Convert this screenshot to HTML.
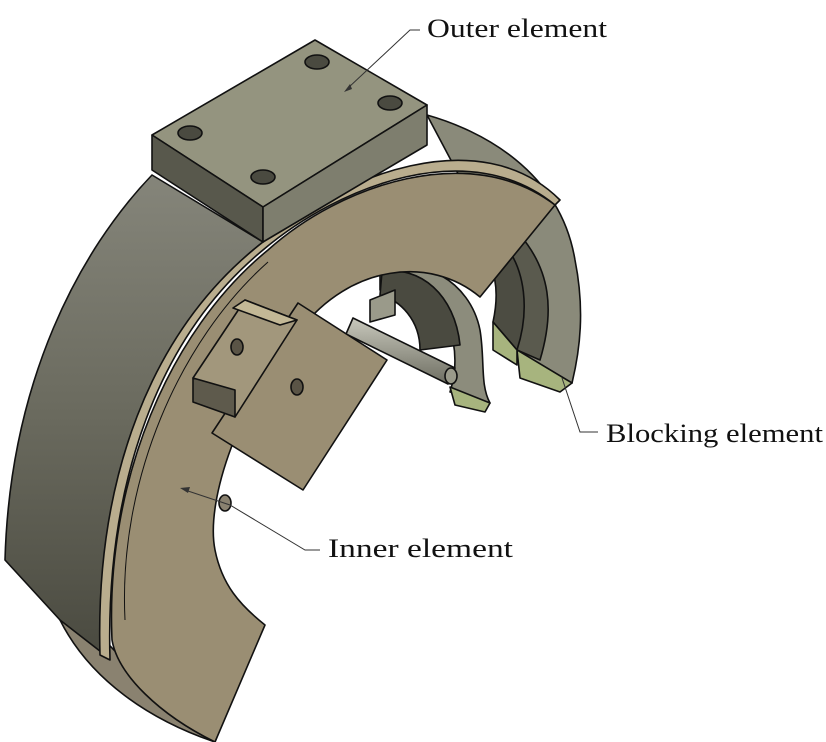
<!DOCTYPE html>
<html><head><meta charset="utf-8"><style>
html,body{margin:0;padding:0;background:#fff}
svg{display:block}
text{font-family:"Liberation Serif",serif;font-size:26px;fill:#111}
</style></head><body>
<svg width="826" height="742" viewBox="0 0 826 742" xmlns="http://www.w3.org/2000/svg">
<defs>
<linearGradient id="band" x1="0" y1="0" x2="0" y2="1">
<stop offset="0" stop-color="#85857a"/><stop offset="0.5" stop-color="#6a6a5e"/><stop offset="1" stop-color="#4a4a40"/></linearGradient>
<linearGradient id="pin" x1="0" y1="0" x2="0" y2="1">
<stop offset="0" stop-color="#c8c8bc"/><stop offset="1" stop-color="#6e6e62"/></linearGradient>
</defs>
<g stroke="#111" stroke-width="1.6" stroke-linejoin="round">
<path d="M427,115 C480,130 560,170 575,260 C585,310 580,350 572,383 L517,350 C525,300 520,250 480,215 Z" fill="#8a8a7a"/>
<path d="M500,240 C530,270 535,310 517,350 L493,322 C500,290 495,265 480,250 Z" fill="#4c4c42"/>
<path d="M520,235 C550,270 555,310 540,360 L517,350 C530,310 525,270 505,245Z" fill="#5a5a4e"/>
<path d="M517,350 L572,383 L560,392 L520,378 Z" fill="#a7b47e"/>
<path d="M493,322 L517,350 L517,365 L493,350 Z" fill="#a7b47e"/>
<path d="M380,270 C420,255 470,280 480,330 C485,360 480,385 490,403 L450,392 C460,360 455,320 430,300 C410,285 390,285 380,290Z" fill="#8c8c7c"/>
<path d="M382,272 C420,265 455,295 460,345 L420,350 C420,320 400,300 380,295Z" fill="#4a4a40"/>
<path d="M450,387 L490,403 L485,412 L455,405Z" fill="#a7b47e"/>
<path d="M353,318 L455,368 L448,384 L346,334 Z" fill="url(#pin)"/>
<ellipse cx="451" cy="376" rx="6" ry="8" fill="#9a9a8a"/>
<path d="M370,300 L395,290 L395,315 L370,322Z" fill="#9a9a8a"/>
<path d="M60,620 C90,680 150,720 215,742 L225,715 C170,700 130,670 105,640 Z" fill="#8a8270"/>
<path d="M152,175 C80,250 10,380 5,560 L60,620 L105,655 C95,500 150,330 263,242 Z" fill="url(#band)"/>
<path d="M263,242 C340,175 480,120 560,200 L555,205 C470,135 340,185 263,250 C160,335 105,480 110,660 L100,655 C95,480 150,330 263,242Z" fill="#b9ad8e"/>
<path d="M268,250 C340,185 470,140 555,205 L480,297 C430,255 350,265 300,330 C240,400 205,500 215,550 C222,585 240,605 265,625 L215,742 C160,715 118,675 112,640 C105,480 170,330 268,250Z" fill="#9a8e73"/>
<path d="M125,620 C118,480 180,340 268,262" fill="none" stroke="#111" stroke-width="1"/>
<path d="M152,135 L315,40 L427,105 L263,207 Z" fill="#94947f"/>
<path d="M152,135 L263,207 L263,242 L152,170 Z" fill="#58584c"/>
<path d="M263,207 L427,105 L427,145 L263,242 Z" fill="#7e7e6e"/>
<ellipse cx="317" cy="62" rx="12" ry="7" fill="#4a4a40"/>
<ellipse cx="190" cy="133" rx="12" ry="7" fill="#4a4a40"/>
<ellipse cx="390" cy="103" rx="12" ry="7" fill="#4a4a40"/>
<ellipse cx="263" cy="177" rx="12" ry="7" fill="#4a4a40"/>
<path d="M298,303 L387,360 L303,490 L212,433 Z" fill="#9a8e73"/>
<path d="M245,300 L297,320 L235,417 L193,378 Z" fill="#a2977c"/>
<path d="M233,308 L245,300 L297,320 L280,325 Z" fill="#c3b896"/>
<path d="M193,378 L235,390 L235,417 L193,402 Z" fill="#5e5a4c"/>
<ellipse cx="237" cy="347" rx="6" ry="8" fill="#5a5446"/>
<ellipse cx="297" cy="387" rx="6" ry="8" fill="#5a5446"/>
<ellipse cx="225" cy="503" rx="6" ry="8" fill="#8a8270"/>
</g>
<g stroke="#333" stroke-width="1" fill="none">
<path d="M420,30 L410,30 L348,88"/>
<path d="M598,432 L580,432 L562,378"/>
<path d="M320,550 L305,550 L230,505 L185,490"/>
</g>
<path d="M344,92 L350,84 L352,89Z" fill="#333"/>
<path d="M180,488 L190,487 L188,493Z" fill="#333"/>
<text x="427" y="37" textLength="180" lengthAdjust="spacingAndGlyphs">Outer element</text>
<text x="606" y="442" textLength="217" lengthAdjust="spacingAndGlyphs">Blocking element</text>
<text x="328" y="557" textLength="185" lengthAdjust="spacingAndGlyphs">Inner element</text>
</svg>
</body></html>
